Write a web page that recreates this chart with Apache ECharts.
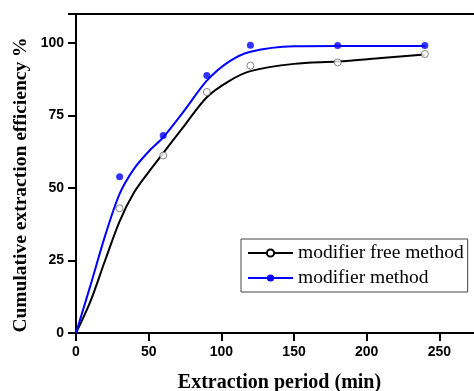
<!DOCTYPE html>
<html>
<head>
<meta charset="utf-8">
<script src="https://cdn.jsdelivr.net/npm/echarts@6/dist/echarts.min.js"></script>
<style>
  html, body { margin: 0; padding: 0; background: #fff; }
  #chart { width: 474px; height: 391px; }
</style>
</head>
<body>
<div id="chart"></div>
<script>
// fitted curves
const curveX = [0, 10, 20, 30, 40, 50, 60, 75, 90, 105, 120, 150, 180, 210, 240];
const freeCurve = [0, 11, 25, 38.5, 48.5, 55.5, 62, 71.8, 81.3, 86.8, 90.3, 92.8, 93.6, 94.8, 96];
const modCurve = [0, 16.5, 33.5, 48, 56.7, 62.6, 67.5, 77, 87, 93.5, 97, 98.9, 99, 99, 99];

// measured points
const pointX = [30, 60, 90, 120, 180, 240];
const freePoints = [43, 61.2, 83.1, 92.2, 93.3, 96.2];
const modPoints = [53.9, 68.1, 88.8, 99.2, 99.1, 99.1];

const xTitle = "Extraction period (min)";
const yTitle = "Cumulative extraction efficiency %";
const names = ["modifier free method", "modifier method"];

const pair = (xs, ys) => xs.map((x, i) => [x, ys[i]]);

const chart = echarts.init(document.getElementById("chart"));
const serif = "'Liberation Serif', 'Times New Roman', serif";
const sans = "'Liberation Sans', Arial, sans-serif";

let option = {
  animation: false,
  grid: {
    left: 76,
    top: 14,
    bottom: 58,
    right: -9,
    outerBoundsMode: "none",
    containLabel: false,
    show: true,
    borderColor: "#000",
    borderWidth: 2,
  },
  legend: {
    orient: "vertical",
    left: 241,
    top: 239,
    data: names,
    itemWidth: 45,
    itemHeight: 9,
    itemGap: 5,
    padding: [4, 4, 4, 6],
    borderColor: "#444",
    borderWidth: 1,
    textStyle: {
      fontFamily: serif,
      fontSize: 19.5,
      color: "#000",
    },
  },
  xAxis: {
    type: "value",
    min: 0,
    max: 280,
    interval: 50,
    name: xTitle,
    nameLocation: "middle",
    nameGap: 40,
    nameTextStyle: { fontFamily: serif, fontSize: 20, fontWeight: "bold", color: "#000" },
    axisLine: { lineStyle: { color: "#000", width: 2 } },
    axisTick: { length: 8, lineStyle: { width: 2, color: "#000" } },
    axisLabel: { color: "#000", fontFamily: sans, fontWeight: "bold", fontSize: 14, margin: 12,
      formatter: v => (v > 250 ? "" : v) },
    splitLine: { show: false },
  },
  yAxis: {
    type: "value",
    min: 0,
    max: 110,
    interval: 25,
    axisLine: { show: true, lineStyle: { color: "#000", width: 2 } },
    axisTick: { show: true, length: 8, lineStyle: { width: 2, color: "#000" } },
    axisLabel: { color: "#000", fontFamily: sans, fontWeight: "bold", fontSize: 14, margin: 12,
      formatter: v => (v > 100 ? "" : v) },
    splitLine: { show: false },
  },
  graphic: [{
    type: "text",
    rotation: Math.PI / 2,
    x: 20.5,
    y: 185,
    style: {
      text: yTitle,
      fontFamily: serif,
      fontSize: 19.5,
      fontWeight: "bold",
      fill: "#000",
      align: "center",
      verticalAlign: "middle",
    },
  }],
  series: [
    {
      name: names[0],
      type: "line",
      smooth: 0.3,
      symbol: "circle",
      showSymbol: false,
      itemStyle: { color: "#fff", borderColor: "#000", borderWidth: 1 },
      lineStyle: { color: "#000", width: 2 },
      data: pair(curveX, freeCurve),
      z: 2,
    },
    {
      name: names[1],
      type: "line",
      smooth: 0.3,
      symbol: "circle",
      showSymbol: false,
      itemStyle: { color: "#0000ff" },
      lineStyle: { color: "#0000ff", width: 2 },
      data: pair(curveX, modCurve),
      z: 2,
    },
    {
      name: "free points",
      type: "scatter",
      symbol: "circle",
      symbolSize: 7,
      itemStyle: { color: "#fff", borderColor: "#666", borderWidth: 1 },
      data: pair(pointX, freePoints),
      z: 3,
    },
    {
      name: "modifier points",
      type: "scatter",
      symbol: "circle",
      symbolSize: 7,
      itemStyle: { color: "#0000ff" },
      data: pair(pointX, modPoints),
      z: 3,
    },
  ],
};

chart.setOption(option);
</script>
</body>
</html>
